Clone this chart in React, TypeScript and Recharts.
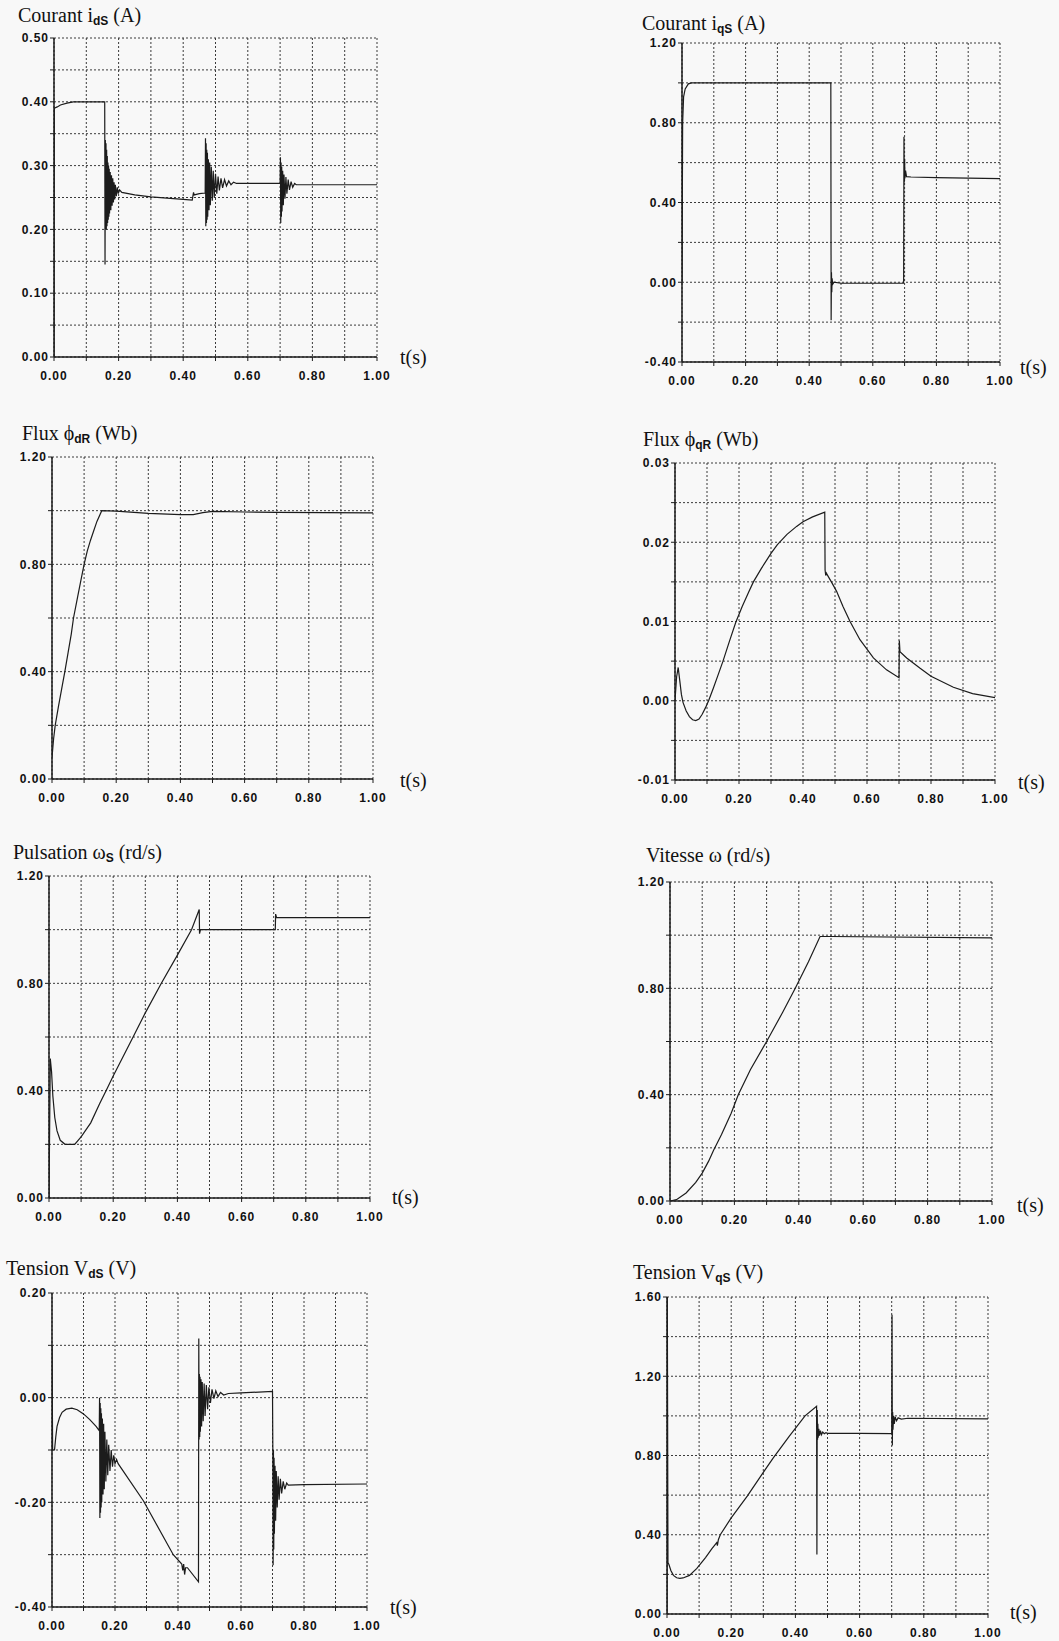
import React from 'react';
import { LineChart, Line, XAxis, YAxis, CartesianGrid } from 'recharts';

type Pt = [number, number];

const xTicks = [0, 0.1, 0.2, 0.3, 0.4, 0.5, 0.6, 0.7, 0.8, 0.9, 1];
const xLabels = [0, 0.2, 0.4, 0.6, 0.8, 1];

// Courant idS (A)
const idsTicks = [0, 0.05, 0.1, 0.15, 0.2, 0.25, 0.3, 0.35, 0.4, 0.45, 0.5];
const idsLabels = [0, 0.1, 0.2, 0.3, 0.4, 0.5];
const ids: Pt[] = [
  [0, 0], [0.001, 0.39], [0.01, 0.392], [0.02, 0.395], [0.04, 0.398], [0.06, 0.4], [0.157, 0.4],
  [0.158, 0.145], [0.159, 0.34], [0.16, 0.2], [0.161, 0.335], [0.162, 0.2], [0.163, 0.325], [0.164, 0.205],
  [0.165, 0.315], [0.166, 0.21], [0.167, 0.305], [0.168, 0.215], [0.169, 0.3], [0.17, 0.22], [0.171, 0.295],
  [0.172, 0.225], [0.174, 0.29], [0.176, 0.23], [0.178, 0.285], [0.18, 0.237], [0.182, 0.28], [0.184, 0.242],
  [0.186, 0.274], [0.188, 0.247], [0.19, 0.27], [0.193, 0.252], [0.196, 0.266], [0.199, 0.256], [0.203, 0.262],
  [0.21, 0.258], [0.25, 0.254], [0.3, 0.251], [0.35, 0.249], [0.4, 0.247], [0.428, 0.246], [0.43, 0.252],
  [0.432, 0.258], [0.434, 0.254], [0.45, 0.256], [0.468, 0.257],
  [0.469, 0.343], [0.47, 0.205], [0.471, 0.335], [0.472, 0.21], [0.473, 0.325], [0.474, 0.215], [0.475, 0.32],
  [0.476, 0.22], [0.478, 0.31], [0.48, 0.23], [0.482, 0.305], [0.484, 0.238], [0.487, 0.298], [0.49, 0.245],
  [0.493, 0.292], [0.496, 0.25], [0.5, 0.287], [0.504, 0.256], [0.508, 0.283], [0.512, 0.261], [0.517, 0.28],
  [0.522, 0.265], [0.528, 0.278], [0.534, 0.268], [0.541, 0.276], [0.548, 0.27], [0.556, 0.274], [0.565, 0.272],
  [0.6, 0.272], [0.7, 0.272],
  [0.701, 0.313], [0.702, 0.21], [0.703, 0.305], [0.704, 0.22], [0.705, 0.298], [0.706, 0.228], [0.708, 0.292],
  [0.71, 0.238], [0.712, 0.286], [0.715, 0.248], [0.718, 0.282], [0.721, 0.256], [0.725, 0.278], [0.729, 0.262],
  [0.734, 0.275], [0.739, 0.266], [0.745, 0.272], [0.75, 0.27], [0.8, 0.27], [1, 0.27],
];

// Courant iqS (A)
const iqsTicks = [-0.4, -0.2, 0, 0.2, 0.4, 0.6, 0.8, 1, 1.2];
const iqsLabels = [-0.4, 0, 0.4, 0.8, 1.2];
const iqs: Pt[] = [
  [0, 0], [0.002, 0.8], [0.005, 0.93], [0.01, 0.97], [0.02, 0.995], [0.03, 1], [0.468, 1],
  [0.469, -0.19], [0.47, 0.05], [0.471, -0.05], [0.472, 0.02], [0.474, -0.01], [0.478, 0], [0.5, -0.005],
  [0.697, -0.005], [0.698, 0.73], [0.699, 0.5], [0.7, 0.62], [0.701, 0.52], [0.703, 0.56], [0.706, 0.53],
  [0.72, 0.528], [0.8, 0.525], [1, 0.52],
];

// Flux phidR (Wb)
const phidTicks = [0, 0.2, 0.4, 0.6, 0.8, 1, 1.2];
const phidLabels = [0, 0.4, 0.8, 1.2];
const phid: Pt[] = [
  [0, 0.08], [0.005, 0.15], [0.01, 0.2], [0.02, 0.27], [0.03, 0.335], [0.04, 0.4], [0.05, 0.47], [0.06, 0.54],
  [0.067, 0.6], [0.08, 0.68], [0.09, 0.74], [0.1, 0.8], [0.11, 0.85], [0.12, 0.89], [0.13, 0.925], [0.14, 0.96],
  [0.155, 1], [0.2, 0.998], [0.3, 0.99], [0.4, 0.985], [0.44, 0.985], [0.47, 0.993], [0.5, 0.997], [0.6, 0.995],
  [0.7, 0.994], [1, 0.992],
];

// Flux phiqR (Wb)
const phiqTicks = [-0.01, -0.005, 0, 0.005, 0.01, 0.015, 0.02, 0.025, 0.03];
const phiqLabels = [-0.01, 0, 0.01, 0.02, 0.03];
const phiq: Pt[] = [
  [0, 0], [0.005, 0.003], [0.01, 0.0042], [0.015, 0.0025], [0.02, 0.0008], [0.025, -0.0002], [0.035, -0.0013],
  [0.045, -0.002], [0.055, -0.0024], [0.065, -0.0025], [0.075, -0.0023], [0.085, -0.0017], [0.095, -0.0009],
  [0.105, 0], [0.12, 0.0016], [0.135, 0.0033], [0.15, 0.005], [0.17, 0.0075], [0.19, 0.0099], [0.21, 0.0119],
  [0.23, 0.0137], [0.245, 0.015], [0.27, 0.0167], [0.3, 0.0186], [0.32, 0.0197], [0.35, 0.021], [0.38, 0.022],
  [0.4, 0.0226], [0.43, 0.0232], [0.468, 0.0238], [0.469, 0.0165], [0.471, 0.0158], [0.473, 0.0161],
  [0.48, 0.0156], [0.49, 0.0149], [0.505, 0.0138], [0.525, 0.0119], [0.547, 0.01], [0.578, 0.0077],
  [0.62, 0.0054], [0.661, 0.0039], [0.7, 0.0029], [0.701, 0.0076], [0.703, 0.0062], [0.724, 0.0054],
  [0.766, 0.0041], [0.8, 0.0031], [0.87, 0.0017], [0.93, 0.0009], [1, 0.0004],
];

// Pulsation omegaS (rd/s)
const omsTicks = [0, 0.2, 0.4, 0.6, 0.8, 1, 1.2];
const omsLabels = [0, 0.4, 0.8, 1.2];
const oms: Pt[] = [
  [0, 0], [0.004, 0.52], [0.008, 0.47], [0.012, 0.38], [0.018, 0.3], [0.025, 0.25], [0.035, 0.215],
  [0.05, 0.2], [0.08, 0.2], [0.1, 0.228], [0.13, 0.28], [0.158, 0.352], [0.18, 0.405], [0.2, 0.455],
  [0.262, 0.6], [0.3, 0.69], [0.35, 0.8], [0.4, 0.905], [0.444, 1], [0.468, 1.075], [0.469, 0.985],
  [0.472, 1], [0.705, 1], [0.706, 1.058], [0.709, 1.045], [1, 1.045],
];

// Vitesse omega (rd/s)
const omTicks = [0, 0.2, 0.4, 0.6, 0.8, 1, 1.2];
const omLabels = [0, 0.4, 0.8, 1.2];
const om: Pt[] = [
  [0, 0], [0.02, 0.005], [0.05, 0.03], [0.08, 0.07], [0.1, 0.105], [0.12, 0.15], [0.135, 0.19], [0.16, 0.25],
  [0.19, 0.33], [0.212, 0.4], [0.25, 0.495], [0.3, 0.6], [0.35, 0.71], [0.389, 0.8], [0.43, 0.9], [0.466, 0.995],
  [0.5, 0.995], [1, 0.99],
];

// Tension VdS (V)
const vdsTicks = [-0.4, -0.3, -0.2, -0.1, 0, 0.1, 0.2];
const vdsLabels = [-0.4, -0.2, 0, 0.2];
const vds: Pt[] = [
  [0, 0.1], [0.002, -0.1], [0.008, -0.1], [0.012, -0.075], [0.016, -0.055], [0.024, -0.038], [0.032, -0.028],
  [0.045, -0.022], [0.063, -0.02], [0.08, -0.023], [0.1, -0.031], [0.12, -0.042], [0.14, -0.055], [0.15, -0.063],
  [0.151, 0], [0.152, -0.23], [0.153, -0.01], [0.154, -0.22], [0.155, -0.02], [0.156, -0.21], [0.157, -0.03],
  [0.158, -0.2], [0.16, -0.04], [0.162, -0.185], [0.164, -0.05], [0.166, -0.175], [0.168, -0.065], [0.171, -0.16],
  [0.174, -0.08], [0.177, -0.148], [0.18, -0.09], [0.184, -0.14], [0.188, -0.1], [0.192, -0.132], [0.196, -0.11],
  [0.2, -0.126], [0.205, -0.118], [0.21, -0.126], [0.29, -0.197], [0.385, -0.3], [0.412, -0.318],
  [0.415, -0.33], [0.418, -0.318], [0.421, -0.338], [0.424, -0.325], [0.43, -0.325], [0.465, -0.352],
  [0.466, 0.113], [0.467, -0.08], [0.468, 0.045], [0.469, -0.075], [0.47, 0.04], [0.471, -0.065],
  [0.473, 0.035], [0.475, -0.055], [0.477, 0.03], [0.48, -0.045], [0.483, 0.027], [0.486, -0.035],
  [0.49, 0.024], [0.494, -0.022], [0.498, 0.02], [0.503, -0.01], [0.508, 0.016], [0.514, -0.002],
  [0.52, 0.013], [0.527, 0.002], [0.535, 0.01], [0.545, 0.005], [0.56, 0.008], [0.6, 0.009], [0.7, 0.012],
  [0.701, -0.09], [0.702, -0.32], [0.703, -0.1], [0.704, -0.29], [0.705, -0.115], [0.706, -0.26],
  [0.708, -0.13], [0.71, -0.235], [0.712, -0.14], [0.715, -0.21], [0.718, -0.15], [0.721, -0.195],
  [0.725, -0.155], [0.729, -0.183], [0.734, -0.16], [0.739, -0.175], [0.745, -0.163], [0.75, -0.167],
  [0.8, -0.166], [1, -0.165],
];

// Tension VqS (V)
const vqsTicks = [0, 0.2, 0.4, 0.6, 0.8, 1, 1.2, 1.4, 1.6];
const vqsLabels = [0, 0.4, 0.8, 1.2, 1.6];
const vqs: Pt[] = [
  [0, 0], [0.001, 1.6], [0.003, 0.26], [0.006, 0.25], [0.012, 0.22], [0.02, 0.195], [0.03, 0.183],
  [0.04, 0.18], [0.05, 0.182], [0.07, 0.195], [0.093, 0.23], [0.12, 0.285], [0.14, 0.33], [0.155, 0.36],
  [0.157, 0.345], [0.16, 0.375], [0.166, 0.4], [0.2, 0.485], [0.25, 0.595], [0.3, 0.715], [0.33, 0.785],
  [0.38, 0.895], [0.43, 1], [0.466, 1.048], [0.467, 0.3], [0.468, 1.03], [0.469, 0.88], [0.47, 0.96],
  [0.471, 0.89], [0.473, 0.935], [0.475, 0.9], [0.478, 0.925], [0.481, 0.905], [0.485, 0.918], [0.49, 0.91],
  [0.495, 0.915], [0.5, 0.912], [0.6, 0.912], [0.7, 0.91], [0.701, 1.51], [0.702, 0.85], [0.703, 1.02],
  [0.704, 0.93], [0.706, 1], [0.708, 0.96], [0.711, 0.995], [0.715, 0.975], [0.72, 0.99], [0.73, 0.984],
  [0.75, 0.988], [1, 0.985],
];

const ink = '#1c1c1c';
const tickFont = {
  fontFamily: 'Liberation Sans, Arial, sans-serif', fontSize: 12, fontWeight: 700, fill: '#111', letterSpacing: 1,
};
const serif = '"Liberation Serif", "Times New Roman", serif';

const has = (list: number[], v: number) => list.some((l) => Math.abs(l - v) < 1e-9);

type PanelProps = {
  data: Pt[];
  yTicks: number[];
  yLabels: number[];
  box: [number, number, number, number];
  title: React.ReactNode;
  titlePos: [number, number];
  tPos: [number, number];
};

function Panel({ data, yTicks, yLabels, box, title, titlePos, tPos }: PanelProps) {
  const [L, R, T, B] = box;
  const padL = 50;
  const padT = 10;
  const w = R - L + padL + 18;
  const h = B - T + padT + 36;
  const rows = data.map(([t, v]) => ({ t, v }));
  const yMin = yTicks[0];
  const yMax = yTicks[yTicks.length - 1];
  return (
    <>
      <div
        style={{
          position: 'absolute', left: titlePos[0], top: titlePos[1] - 12, fontFamily: serif,
          fontSize: 20, lineHeight: '24px', color: '#111', whiteSpace: 'nowrap',
        }}
      >
        {title}
      </div>
      <div
        style={{
          position: 'absolute', left: tPos[0], top: tPos[1] - 13, fontFamily: serif,
          fontSize: 20, lineHeight: '26px', color: '#111',
        }}
      >
        t(s)
      </div>
      <div style={{ position: 'absolute', left: L - padL, top: T - padT }}>
        <LineChart width={w} height={h} data={rows} margin={{ top: padT, right: 18, bottom: 6, left: 0 }}>
          <CartesianGrid stroke="#3a3a3a" strokeDasharray="2 2" strokeWidth={1} />
          <XAxis
            dataKey="t"
            type="number"
            domain={[0, 1]}
            ticks={xTicks}
            interval={0}
            height={30}
            tickSize={4}
            tickMargin={10}
            tick={tickFont}
            axisLine={{ stroke: ink, strokeWidth: 1.5 }}
            tickLine={{ stroke: ink }}
            tickFormatter={(v: number) => (has(xLabels, v) ? v.toFixed(2) : '')}
            allowDataOverflow
          />
          <YAxis
            type="number"
            width={padL}
            domain={[yMin, yMax]}
            ticks={yTicks}
            interval={0}
            tickSize={4}
            tickMargin={1}
            tick={tickFont}
            axisLine={{ stroke: ink, strokeWidth: 1.5 }}
            tickLine={{ stroke: ink }}
            tickFormatter={(v: number) => (has(yLabels, v) ? v.toFixed(2) : '')}
            allowDataOverflow
          />
          <Line type="linear" dataKey="v" stroke={ink} strokeWidth={1.2} dot={false} isAnimationActive={false} />
        </LineChart>
      </div>
    </>
  );
}

const sub = (s: string) => (
  <span style={{ fontSize: 12, fontWeight: 700, fontFamily: 'Liberation Sans, Arial, sans-serif', verticalAlign: -3 }}>{s}</span>
);

export default function App() {
  return (
    <div style={{ position: 'absolute', left: 0, top: 0, width: 1059, height: 1641, background: '#f8f8f8', overflow: 'hidden' }}>
      <Panel data={ids} yTicks={idsTicks} yLabels={idsLabels} box={[54, 377, 38, 357]}
        title={<>Courant i{sub('dS')} (A)</>} titlePos={[18, 15]} tPos={[400, 357]} />
      <Panel data={iqs} yTicks={iqsTicks} yLabels={iqsLabels} box={[682, 1000, 43, 362]}
        title={<>Courant i{sub('qS')} (A)</>} titlePos={[642, 23]} tPos={[1020, 367]} />
      <Panel data={phid} yTicks={phidTicks} yLabels={phidLabels} box={[52, 373, 457, 779]}
        title={<>Flux ϕ{sub('dR')} (Wb)</>} titlePos={[22, 433]} tPos={[400, 780]} />
      <Panel data={phiq} yTicks={phiqTicks} yLabels={phiqLabels} box={[675, 995, 463, 780]}
        title={<>Flux ϕ{sub('qR')} (Wb)</>} titlePos={[643, 439]} tPos={[1018, 782]} />
      <Panel data={oms} yTicks={omsTicks} yLabels={omsLabels} box={[49, 370, 876, 1198]}
        title={<>Pulsation ω{sub('S')} (rd/s)</>} titlePos={[13, 852]} tPos={[392, 1197]} />
      <Panel data={om} yTicks={omTicks} yLabels={omLabels} box={[670, 992, 882, 1201]}
        title={<>Vitesse ω (rd/s)</>} titlePos={[646, 855]} tPos={[1017, 1205]} />
      <Panel data={vds} yTicks={vdsTicks} yLabels={vdsLabels} box={[52, 367, 1293, 1607]}
        title={<>Tension V{sub('dS')} (V)</>} titlePos={[6, 1268]} tPos={[390, 1607]} />
      <Panel data={vqs} yTicks={vqsTicks} yLabels={vqsLabels} box={[667, 988, 1297, 1614]}
        title={<>Tension V{sub('qS')} (V)</>} titlePos={[633, 1272]} tPos={[1010, 1612]} />
    </div>
  );
}
